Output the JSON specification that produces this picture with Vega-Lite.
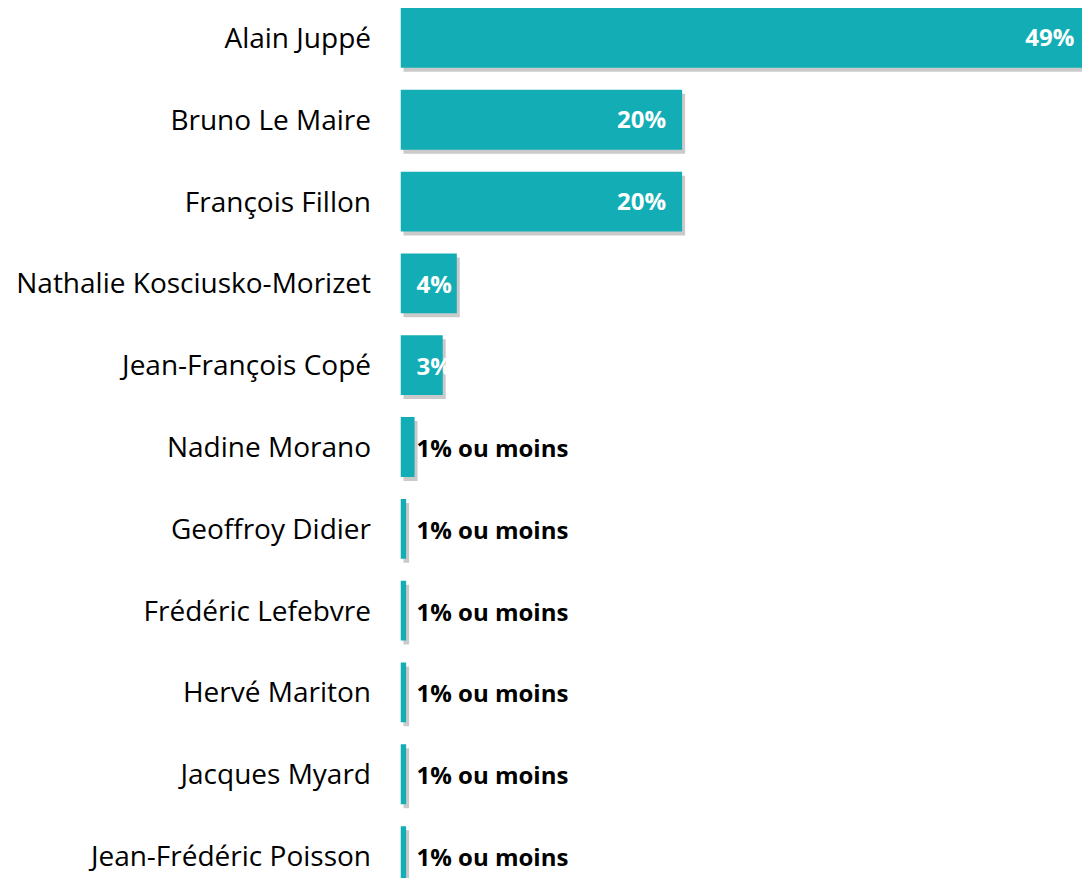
{
  "$schema": "https://vega.github.io/schema/vega-lite/v6.json",
  "autosize": "none",
  "padding": {"left": 400.5, "top": 0, "right": 0, "bottom": 0},
  "width": 681.5,
  "height": 878,
  "background": "white",
  "config": {"view": {"stroke": null}},
  "data": {
    "values": [
      {"name": "Alain Juppé", "value": 49, "label": "49%"},
      {"name": "Bruno Le Maire", "value": 20, "label": "20%"},
      {"name": "François Fillon", "value": 20, "label": "20%"},
      {"name": "Nathalie Kosciusko-Morizet", "value": 4, "label": "4%"},
      {"name": "Jean-François Copé", "value": 3, "label": "3%"},
      {"name": "Nadine Morano", "value": 1, "label": "1% ou moins"},
      {"name": "Geoffroy Didier", "value": 0.4, "label": "1% ou moins"},
      {"name": "Frédéric Lefebvre", "value": 0.4, "label": "1% ou moins"},
      {"name": "Hervé Mariton", "value": 0.4, "label": "1% ou moins"},
      {"name": "Jacques Myard", "value": 0.4, "label": "1% ou moins"},
      {"name": "Jean-Frédéric Poisson", "value": 0.4, "label": "1% ou moins"}
    ]
  },
  "encoding": {
    "y": {
      "field": "name",
      "type": "nominal",
      "sort": null,
      "scale": {"paddingInner": 0.269, "paddingOuter": 0.098, "range": [0, 894]},
      "axis": {
        "title": null,
        "domain": false,
        "ticks": false,
        "labelPadding": 30,
        "labelFont": "Open Sans",
        "labelFontSize": 28,
        "labelColor": "#000000",
        "labelLimit": 600,
        "labelOffset": 2
      }
    }
  },
  "layer": [
    {
      "mark": {"type": "bar", "color": "#7a7a7a", "opacity": 0.4, "xOffset": 3, "yOffset": 4, "clip": true},
      "encoding": {
        "x": {"field": "value", "type": "quantitative", "scale": {"domain": [0, 48.4], "nice": false}, "axis": null}
      }
    },
    {
      "mark": {"type": "bar", "color": "#13AEB5", "clip": true},
      "encoding": {
        "x": {"field": "value", "type": "quantitative"}
      }
    },
    {
      "transform": [{"filter": "datum.value >= 10"}],
      "mark": {"type": "text", "align": "right", "baseline": "middle", "dx": -16, "dy": 1, "font": "Open Sans", "fontWeight": "bold", "fontSize": 24, "color": "#ffffff"},
      "encoding": {
        "x": {"field": "value", "type": "quantitative"},
        "text": {"field": "label"}
      }
    },
    {
      "transform": [{"filter": "datum.value < 10"}],
      "mark": {"type": "text", "align": "left", "baseline": "middle", "dx": 16, "dy": 3, "font": "Open Sans", "fontWeight": "bold", "fontSize": 24},
      "encoding": {
        "x": {"datum": 0, "type": "quantitative"},
        "text": {"field": "label"},
        "color": {
          "condition": {"test": "datum.value >= 2", "value": "#ffffff"},
          "value": "#000000"
        }
      }
    }
  ]
}
